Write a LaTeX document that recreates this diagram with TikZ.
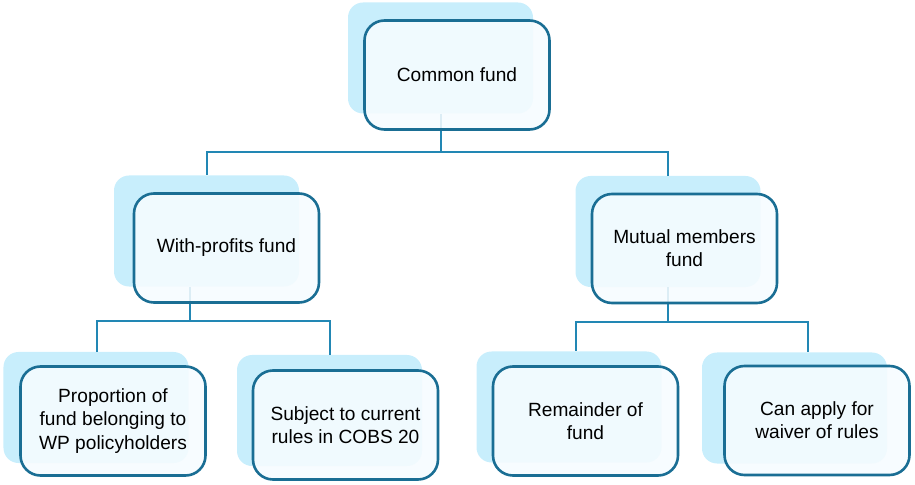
\documentclass[tikz,border=0pt]{standalone}
\usepackage{fontspec}
\setmainfont{Liberation Sans}
\definecolor{boxline}{HTML}{1A6E94}
\definecolor{boxshade}{HTML}{C8EEFC}
\definecolor{boxfill}{HTML}{F6FCFF}
\definecolor{linkline}{HTML}{2287B4}
\begin{document}
\begin{tikzpicture}[x=1bp,y=-1bp,
  shade/.style={fill=boxshade,rounded corners=15bp,minimum width=185bp,minimum height=111bp,inner sep=0pt},
  fund/.style={draw=boxline,line width=2.6bp,fill=boxfill,fill opacity=0.88,text opacity=1,
    rounded corners=20bp,minimum width=185bp,minimum height=109bp,align=center,
    font=\fontsize{19.2}{23.2}\selectfont},
  link/.style={draw=linkline,line width=2bp}]
\useasboundingbox (0,0) rectangle (915,485);
% shadows
\node[shade] (cf-s) at (440.5,58) {};
\node[shade] (wp-s) at (206.5,231) {};
\node[shade] (mm-s) at (668,231.5) {};
\node[shade] (prop-s) at (96,407.5) {};
\node[shade] (subj-s) at (329.5,410.5) {};
\node[shade] (rem-s) at (569,407) {};
\node[shade] (can-s) at (794.5,408) {};
% connectors
\coordinate (bus-cf) at (440.5,152);
\coordinate (bus-wp) at (190,321);
\coordinate (bus-mm) at (668,322);
\draw[link] (cf-s.south) -- (bus-cf) -| (wp-s.north);
\draw[link] (bus-cf) -| (mm-s.north);
\draw[link] (bus-wp |- wp-s.south) -- (bus-wp) -| ([xshift=1bp]prop-s.north);
\draw[link] (bus-wp) -| (subj-s.north);
\draw[link] (mm-s.south) -- (bus-mm) -| ([xshift=7bp]rem-s.north);
\draw[link] (bus-mm) -| ([xshift=13.5bp]can-s.north);
% boxes
\node[fund] (cf) at (457,75) {Common fund};
\node[fund] (wp) at (226.5,248) {With-profits fund};
\node[fund] (mm) at (684.5,248.5) {Mutual members\\fund};
\node[fund] (prop) at (113,421) {Proportion of\\fund belonging to\\WP policyholders};
\node[fund] (subj) at (345.5,425) {Subject to current\\rules in COBS 20};
\node[fund] (rem) at (585.5,421) {Remainder of\\fund};
\node[fund] (can) at (817,420.5) {Can apply for\\waiver of rules};
\end{tikzpicture}
\end{document}
